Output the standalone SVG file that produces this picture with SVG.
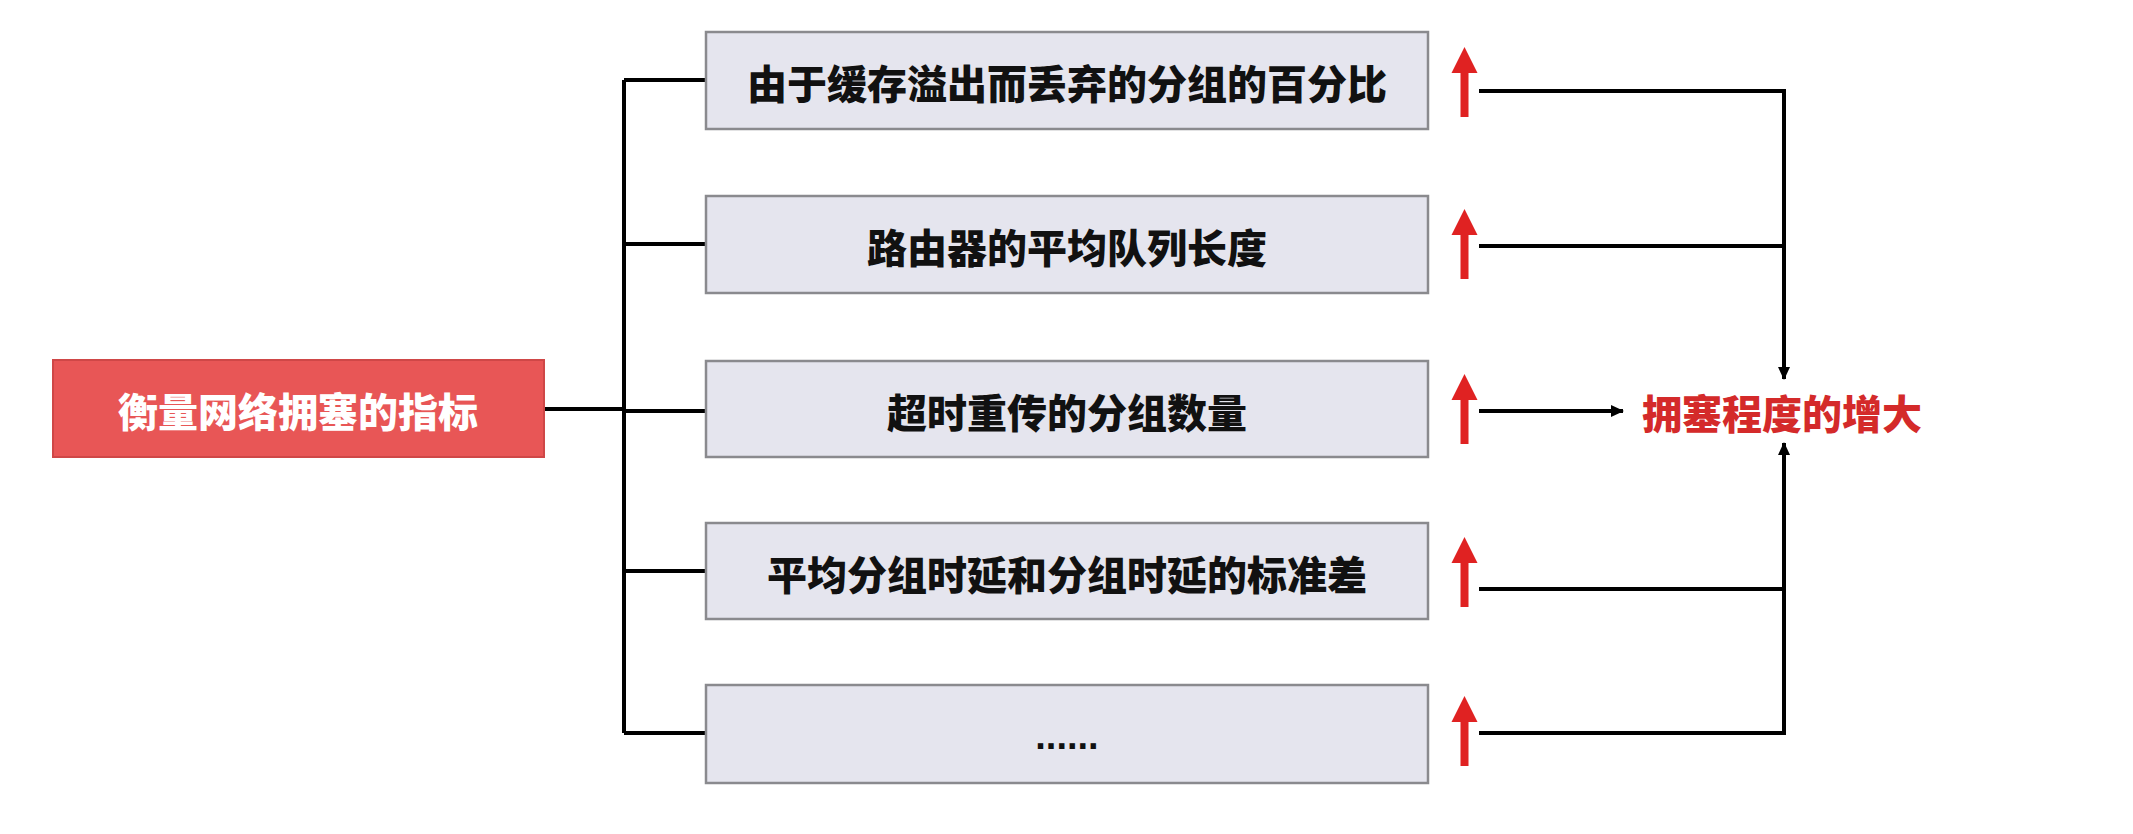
<svg xmlns="http://www.w3.org/2000/svg" width="2133" height="834" viewBox="0 0 2133 834">
<defs>
<style>
.box{fill:#e5e5ee;stroke:#8a8a8e;stroke-width:2.5}
.lbl{font-family:"Noto Sans CJK SC","Liberation Sans",sans-serif;font-weight:900;font-size:40px;fill:#111;text-anchor:middle;dominant-baseline:central}
.conn{fill:none;stroke:#000;stroke-width:4}
.up{fill:#e02222}
</style>
<marker id="ah" markerWidth="14" markerHeight="14" refX="12" refY="7" orient="auto" markerUnits="userSpaceOnUse">
<path d="M0,1 L13,7 L0,13 Z" fill="#000"/>
</marker>
<path id="redup" class="up" d="M-13,26 L0,0 L13,26 L4,26 L4,70 L-4,70 L-4,26 Z"/>
</defs>
<rect width="2133" height="834" fill="#fff"/>
<g id="connectors">
<path class="conn" d="M544,409 H624"/>
<path class="conn" d="M624,80 V733"/>
<path class="conn" d="M624,80 H706"/>
<path class="conn" d="M624,244 H706"/>
<path class="conn" d="M624,411 H706"/>
<path class="conn" d="M624,571 H706"/>
<path class="conn" d="M624,733 H706"/>
<path class="conn" d="M1479,91 H1784 V379" marker-end="url(#ah)"/>
<path class="conn" d="M1479,246 H1784"/>
<path class="conn" d="M1479,411 H1623" marker-end="url(#ah)"/>
<path class="conn" d="M1479,589 H1784"/>
<path class="conn" d="M1479,733 H1784 V443" marker-end="url(#ah)"/>
</g>
<g id="root">
<rect x="53" y="360" width="491" height="97" fill="#e85656" stroke="#cf4747" stroke-width="2"/>
<text class="lbl" x="298" y="410" style="fill:#fff">衡量网络拥塞的指标</text>
</g>
<g id="n1">
<rect class="box" x="706" y="32" width="722" height="97"/>
<text class="lbl" x="1067" y="82">由于缓存溢出而丢弃的分组的百分比</text>
</g>
<g id="n2">
<rect class="box" x="706" y="196" width="722" height="97"/>
<text class="lbl" x="1067" y="246">路由器的平均队列长度</text>
</g>
<g id="n3">
<rect class="box" x="706" y="361" width="722" height="96"/>
<text class="lbl" x="1067" y="411">超时重传的分组数量</text>
</g>
<g id="n4">
<rect class="box" x="706" y="523" width="722" height="96"/>
<text class="lbl" x="1067" y="573">平均分组时延和分组时延的标准差</text>
</g>
<g id="n5">
<rect class="box" x="706" y="685" width="722" height="98"/>
<text x="1067" y="749" style="font-family:'Liberation Sans',sans-serif;font-weight:bold;font-size:38px;fill:#111;text-anchor:middle">......</text>
</g>
<g id="red-arrows">
<use href="#redup" x="1464.5" y="47"/>
<use href="#redup" x="1464.5" y="209"/>
<use href="#redup" x="1464.5" y="374"/>
<use href="#redup" x="1464.5" y="537"/>
<use href="#redup" x="1464.5" y="696"/>
</g>
<g id="result">
<text class="lbl" x="1782" y="412" style="fill:#d42a2a">拥塞程度的增大</text>
</g>
</svg>
